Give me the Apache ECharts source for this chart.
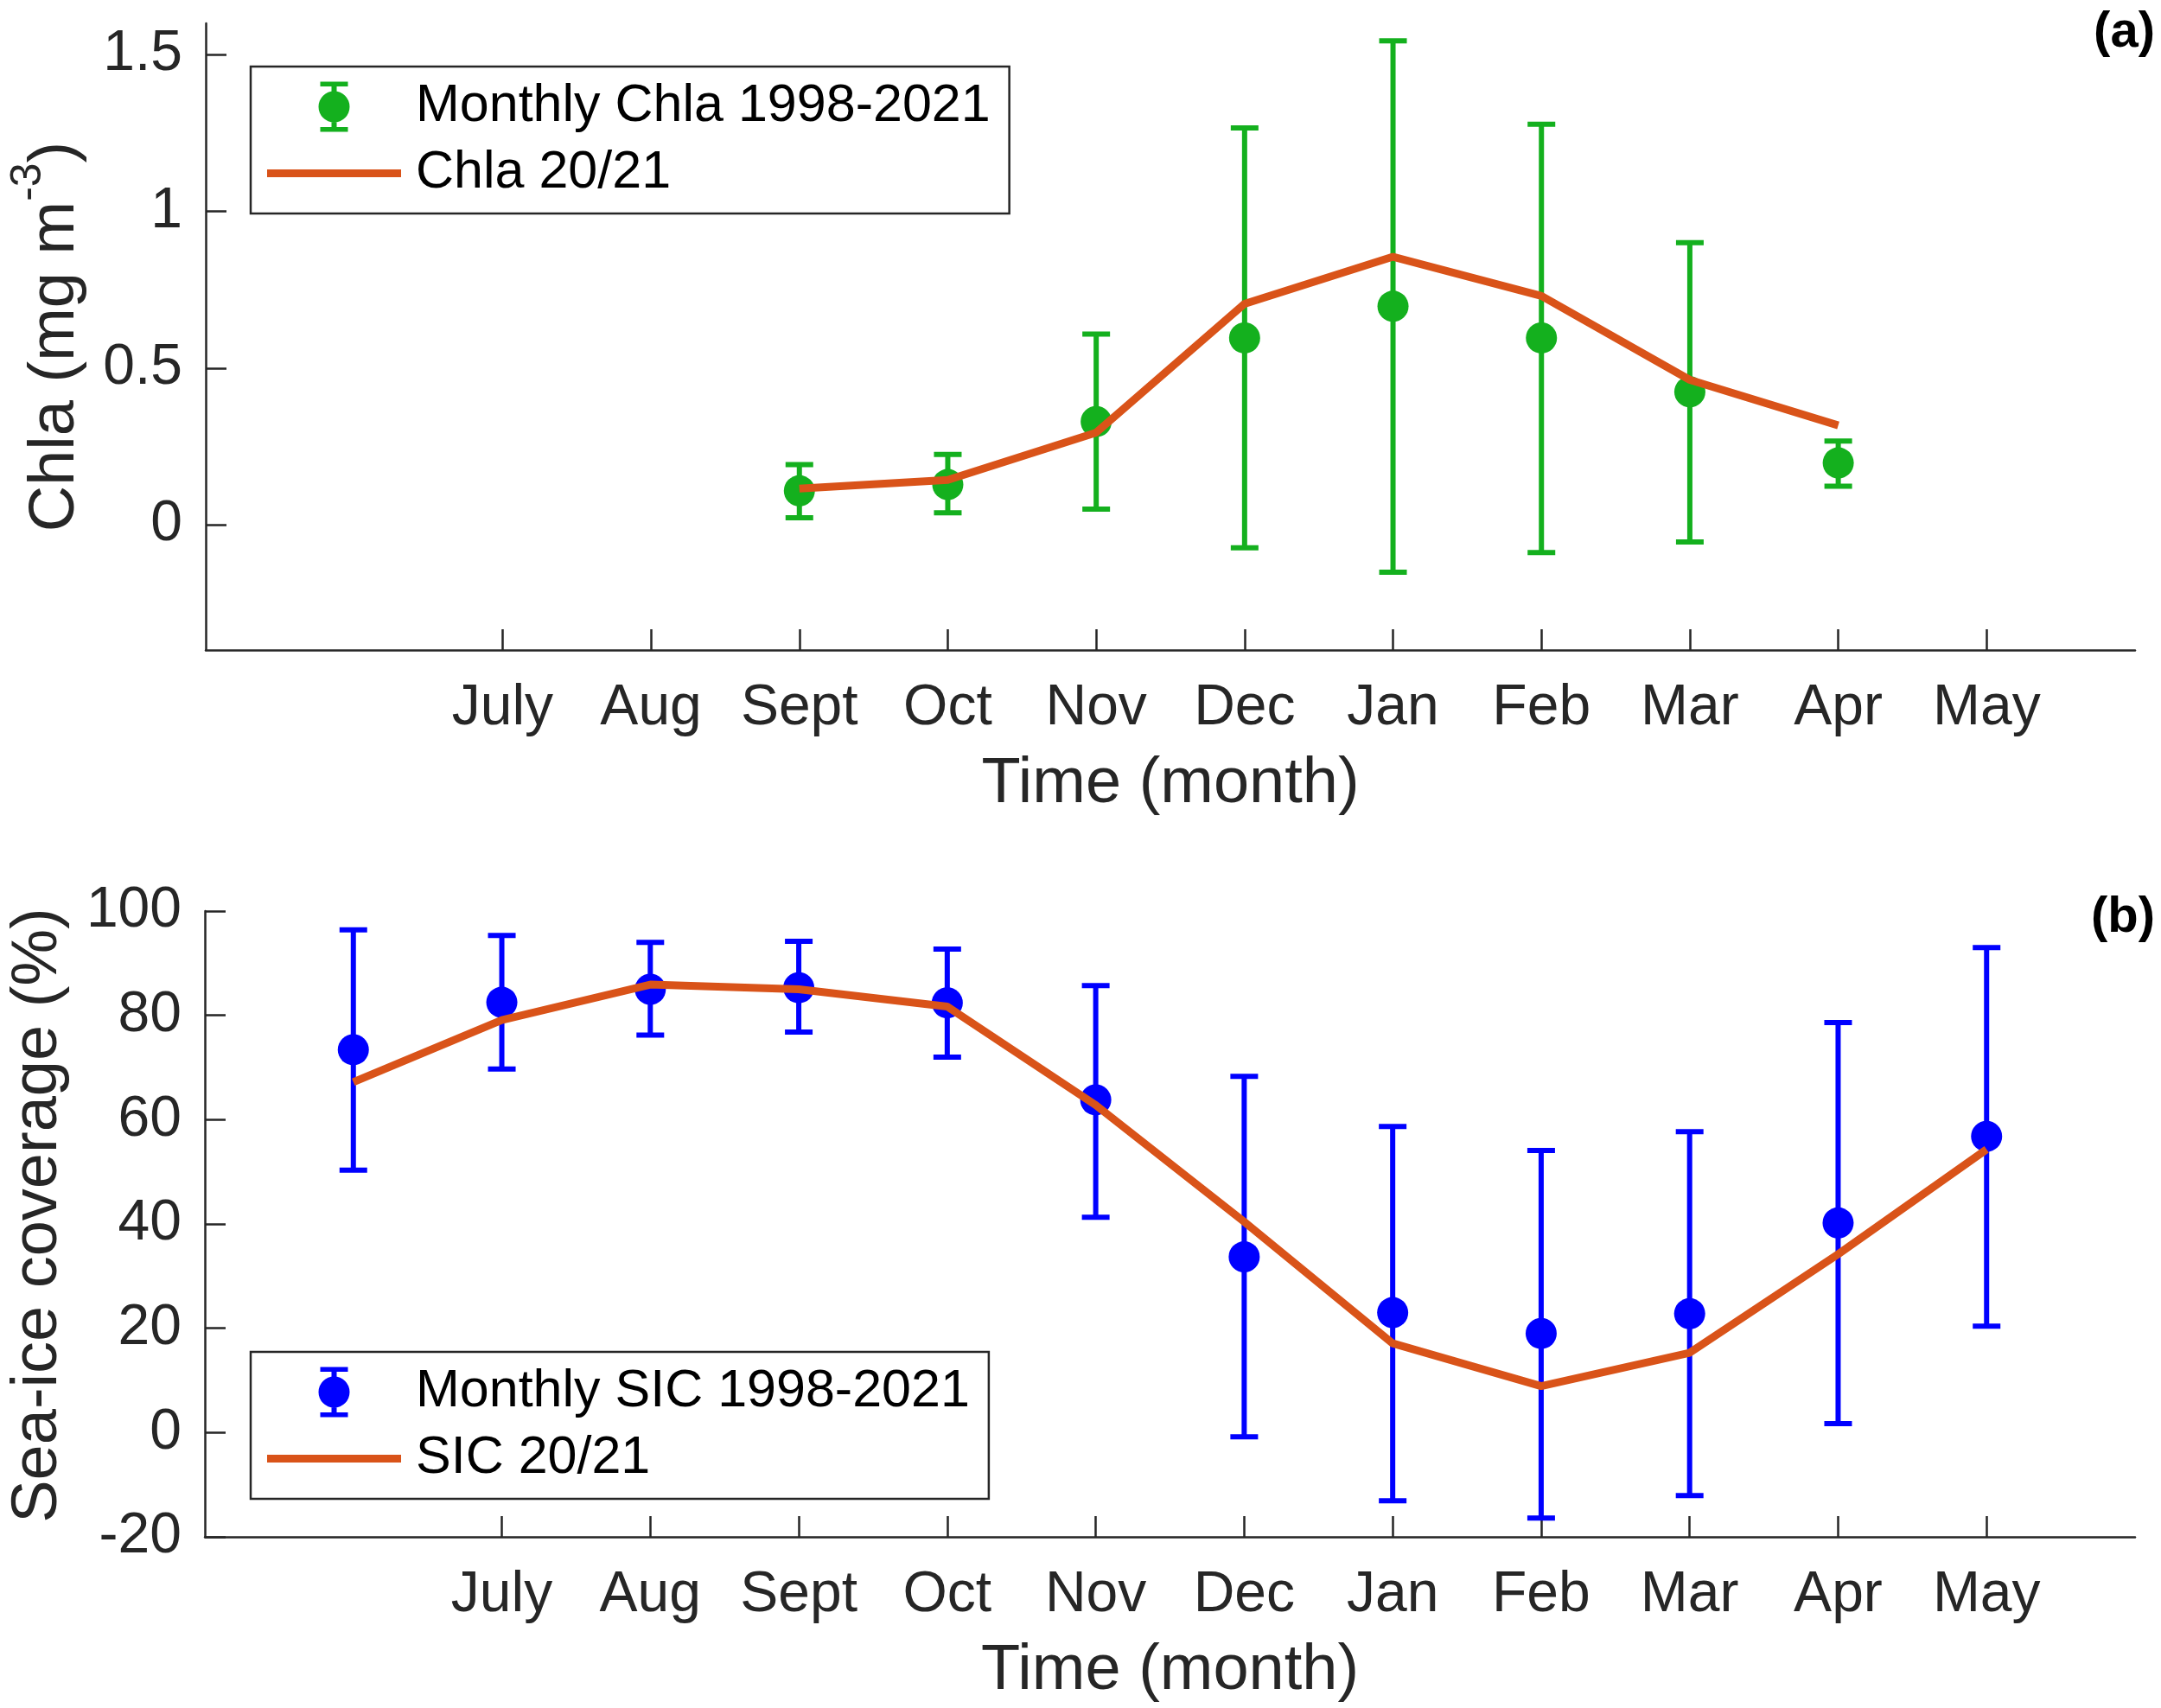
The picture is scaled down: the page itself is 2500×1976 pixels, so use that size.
<!DOCTYPE html>
<html>
<head>
<meta charset="utf-8">
<script src="https://cdn.jsdelivr.net/npm/echarts@6/dist/echarts.min.js"></script>
<style>
  html, body { margin: 0; padding: 0; background: #fff; }
  #chart { width: 2500px; height: 1976px; }
</style>
</head>
<body>
<div id="chart"></div>
<script>
// ---- data ----
const months = ['June', 'July', 'Aug', 'Sept', 'Oct', 'Nov', 'Dec', 'Jan', 'Feb', 'Mar', 'Apr', 'May'];
const tickMonths = ['July', 'Aug', 'Sept', 'Oct', 'Nov', 'Dec', 'Jan', 'Feb', 'Mar', 'Apr', 'May'];
const chlaTicks = [0, 0.5, 1, 1.5];
const sicTicks = [-20, 0, 20, 40, 60, 80, 100];

const chlaMonths = ['Sept', 'Oct', 'Nov', 'Dec', 'Jan', 'Feb', 'Mar', 'Apr'];
const chlaMean = [0.108, 0.128, 0.329, 0.596, 0.697, 0.596, 0.424, 0.197];
const chlaLow  = [0.022, 0.038, 0.050, -0.074, -0.152, -0.089, -0.055, 0.123];
const chlaHigh = [0.192, 0.224, 0.608, 1.266, 1.544, 1.278, 0.900, 0.267];
const chla2021 = [0.115, 0.143, 0.294, 0.705, 0.855, 0.730, 0.462, 0.317];

const sicMonths = ['June', 'July', 'Aug', 'Sept', 'Oct', 'Nov', 'Dec', 'Jan', 'Feb', 'Mar', 'Apr', 'May'];
const sicMean = [73.4, 82.5, 85.0, 85.3, 82.4, 63.8, 33.7, 23.0, 19.0, 22.8, 40.2, 56.8];
const sicLow  = [50.3, 69.7, 76.2, 76.8, 72.0, 41.3, -0.8, -13.1, -16.4, -12.1, 1.7, 20.4];
const sicHigh = [96.4, 95.3, 94.0, 94.2, 92.7, 85.7, 68.3, 58.7, 54.1, 57.7, 78.6, 93.0];
const sic2021 = [67.2, 79.1, 85.9, 85.0, 81.7, 62.8, 40.4, 17.1, 8.9, 15.3, 34.2, 54.3];

// ---- helpers ----
const FONT = '"Liberation Sans", Arial, Helvetica, sans-serif';
const AX = '#262626';
const GREEN = '#14B01E';
const BLUE = '#0000FF';
const ORANGE = '#D95319';
const pos = m => months.indexOf(m) + 1;
const tickPos = tickMonths.map(pos);

const errIcon = 'path://M0 29 A18 18 0 1 1 36 29 A18 18 0 1 1 0 29 Z ' +
  'M15 0 L21 0 L21 58 L15 58 Z M2 0 L34 0 L34 5.5 L2 5.5 Z M2 52.5 L34 52.5 L34 58 L2 58 Z';
const lineIcon = 'path://M0 0 L155 0 L155 9 L0 9 Z';

function errRender(color) {
  return function (params, api) {
    const x = api.value(0), lo = api.value(1), hi = api.value(2);
    const pLo = api.coord([x, lo]);
    const pHi = api.coord([x, hi]);
    const hw = 16;
    const st = { stroke: color, lineWidth: 6, lineCap: 'butt' };
    return {
      type: 'group',
      children: [
        { type: 'line', shape: { x1: pLo[0], y1: pLo[1], x2: pHi[0], y2: pHi[1] }, style: st },
        { type: 'line', shape: { x1: pHi[0] - hw, y1: pHi[1], x2: pHi[0] + hw, y2: pHi[1] }, style: st },
        { type: 'line', shape: { x1: pLo[0] - hw, y1: pLo[1], x2: pLo[0] + hw, y2: pLo[1] }, style: st }
      ]
    };
  };
}

function xAxisCfg(gi) {
  return {
    type: 'value', gridIndex: gi, min: 0, max: 13,
    axisLine: { show: true, onZero: false, lineStyle: { color: AX, width: 2.5 } },
    axisTick: { show: true, inside: true, length: 24, customValues: tickPos, lineStyle: { color: AX, width: 2.5 } },
    axisLabel: { customValues: tickPos, formatter: v => months[v - 1], fontSize: 66, color: AX, margin: 35, fontFamily: FONT },
    splitLine: { show: false },
    name: 'Time (month)', nameLocation: 'middle', nameGap: 119,
    nameTextStyle: { fontSize: 74, color: AX, fontFamily: FONT }
  };
}

function yAxisCfg(gi, min, max, ticks, name, gap, nameStyle) {
  return {
    type: 'value', gridIndex: gi, min: min, max: max,
    axisLine: { show: true, onZero: false, lineStyle: { color: AX, width: 2.5 } },
    axisTick: { show: true, inside: true, length: 24, customValues: ticks, lineStyle: { color: AX, width: 2.5 } },
    axisLabel: { customValues: ticks, fontSize: 66, color: AX, margin: 27, fontFamily: FONT },
    splitLine: { show: false },
    name: name, nameLocation: 'middle', nameGap: gap, nameRotate: 90,
    nameTextStyle: nameStyle
  };
}

function legendCfg(top, names) {
  return {
    left: 290, top: top, orient: 'vertical',
    padding: [16, 22, 16, 19], itemGap: 16, itemWidth: 155, itemHeight: 58,
    borderColor: AX, borderWidth: 2.5, backgroundColor: '#fff',
    textStyle: { fontSize: 61, color: '#000', fontFamily: FONT, padding: [0, 0, 0, 12] },
    data: [{ name: names[0], icon: errIcon }, { name: names[1], icon: lineIcon }]
  };
}

const chart = echarts.init(document.getElementById('chart'), null, { renderer: 'canvas' });
chart.setOption({
  backgroundColor: '#fff',
  animation: false,
  textStyle: { fontFamily: FONT },
  title: [
    { text: '(a)', right: 7, top: 9, padding: 0, textStyle: { fontSize: 58, fontWeight: 'bold', color: '#000', fontFamily: FONT } },
    { text: '(b)', right: 7, top: 1033, padding: 0, textStyle: { fontSize: 58, fontWeight: 'bold', color: '#000', fontFamily: FONT } }
  ],
  grid: [
    { left: 231, top: 27, width: 2239, height: 725 },
    { left: 231, top: 1054, width: 2239, height: 724 }
  ],
  xAxis: [xAxisCfg(0), xAxisCfg(1)],
  yAxis: [
    yAxisCfg(0, -0.4, 1.6, chlaTicks, '{m|Chla (mg m}{s|-3}{m|)}', 136, {
      color: AX, fontFamily: FONT,
      rich: {
        m: { fontSize: 74, lineHeight: 74, color: AX, fontFamily: FONT, verticalAlign: 'bottom' },
        s: { fontSize: 50, lineHeight: 50, color: AX, fontFamily: FONT, verticalAlign: 'bottom', padding: [0, 0, 44, 0] }
      }
    }),
    yAxisCfg(1, -20, 100, sicTicks, 'Sea-ice coverage (%)', 155, {
      fontSize: 74, color: AX, fontFamily: FONT, padding: [0, 0, 0, 20]
    })
  ],
  legend: [
    legendCfg(77, ['Monthly Chla 1998-2021', 'Chla 20/21']),
    legendCfg(1564, ['Monthly SIC 1998-2021', 'SIC 20/21'])
  ],
  series: [
    {
      name: 'Chla err', type: 'custom', xAxisIndex: 0, yAxisIndex: 0, z: 2,
      renderItem: errRender(GREEN),
      itemStyle: { color: GREEN },
      data: chlaMonths.map((m, i) => [pos(m), chlaLow[i], chlaHigh[i]]),
      encode: { x: 0, y: [1, 2] }
    },
    {
      name: 'Monthly Chla 1998-2021', type: 'scatter', xAxisIndex: 0, yAxisIndex: 0, z: 3,
      symbol: 'circle', symbolSize: 36, itemStyle: { color: GREEN, opacity: 1 },
      data: chlaMonths.map((m, i) => [pos(m), chlaMean[i]])
    },
    {
      name: 'Chla 20/21', type: 'line', xAxisIndex: 0, yAxisIndex: 0, z: 4,
      symbol: 'none', lineStyle: { color: ORANGE, width: 9 }, itemStyle: { color: ORANGE },
      data: chlaMonths.map((m, i) => [pos(m), chla2021[i]])
    },
    {
      name: 'SIC err', type: 'custom', xAxisIndex: 1, yAxisIndex: 1, z: 2,
      renderItem: errRender(BLUE),
      itemStyle: { color: BLUE },
      data: sicMonths.map((m, i) => [pos(m), sicLow[i], sicHigh[i]]),
      encode: { x: 0, y: [1, 2] }
    },
    {
      name: 'Monthly SIC 1998-2021', type: 'scatter', xAxisIndex: 1, yAxisIndex: 1, z: 3,
      symbol: 'circle', symbolSize: 36, itemStyle: { color: BLUE, opacity: 1 },
      data: sicMonths.map((m, i) => [pos(m), sicMean[i]])
    },
    {
      name: 'SIC 20/21', type: 'line', xAxisIndex: 1, yAxisIndex: 1, z: 4,
      symbol: 'none', lineStyle: { color: ORANGE, width: 9 }, itemStyle: { color: ORANGE },
      data: sicMonths.map((m, i) => [pos(m), sic2021[i]])
    }
  ]
});
</script>
</body>
</html>
